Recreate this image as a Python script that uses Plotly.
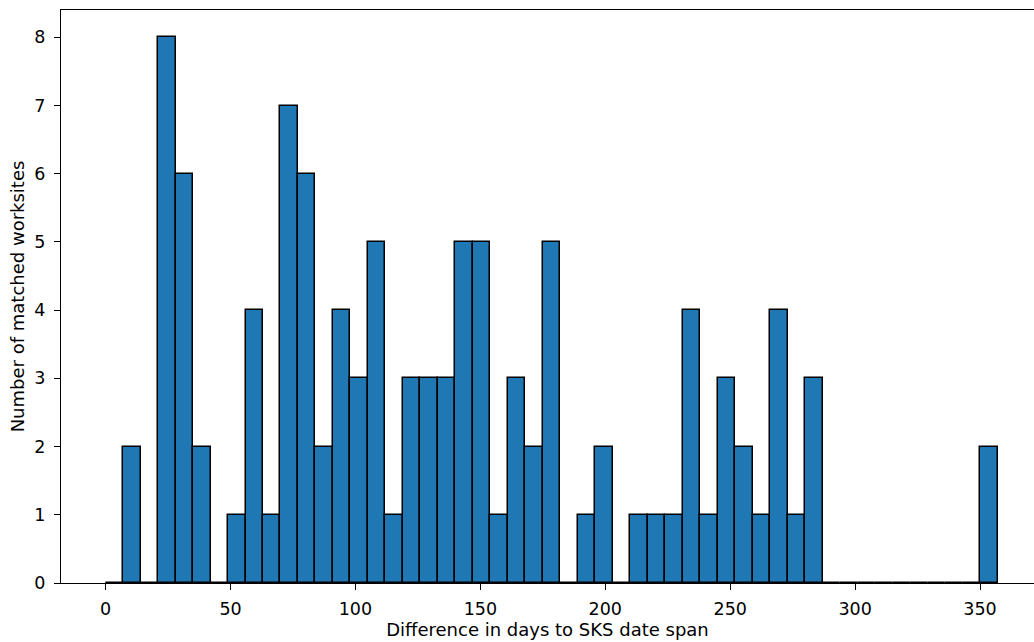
import plotly.graph_objects as go

# Histogram data (bin width 7 days, bins starting at 0)
bin_start = 0
bin_width = 7
counts = [0, 2, 0, 8, 6, 2, 0, 1, 4, 1,
          7, 6, 2, 4, 3, 5, 1, 3, 3, 3,
          5, 5, 1, 3, 2, 5, 0, 1, 2, 0,
          1, 1, 1, 4, 1, 3, 2, 1, 4, 1,
          3, 0, 0, 0, 0, 0, 0, 0, 0, 0,
          2]
x_ticks = [0, 50, 100, 150, 200, 250, 300, 350]
y_ticks = [0, 1, 2, 3, 4, 5, 6, 7, 8]
x_title = "Difference in days to SKS date span"
y_title = "Number of matched worksites"

centers = [bin_start + bin_width * (i + 0.5) for i in range(len(counts))]

FONT = "DejaVu Sans"

fig = go.Figure()
fig.add_trace(go.Bar(
    x=centers, y=counts, width=bin_width,
    marker=dict(color="#1f77b4", line=dict(color="black", width=1.5)),
    showlegend=False,
))

fig.update_layout(
    width=1034, height=642,
    margin=dict(l=61, r=0, t=10, b=59),
    paper_bgcolor="white", plot_bgcolor="white",
    font=dict(family=FONT, size=17.5, color="black"),
    bargap=0,
    xaxis=dict(
        range=[-17.85, 371.6],
        tickvals=x_ticks,
        ticks="outside", ticklen=6, tickwidth=1.4, tickcolor="black",
        showline=True, linecolor="black", linewidth=1.4, mirror=True,
        showgrid=False, zeroline=False,
        ticklabelstandoff=4,
        title=dict(text=x_title, font=dict(size=18), standoff=5),
        automargin=False,
    ),
    yaxis=dict(
        range=[0, 8.4],
        tickvals=y_ticks,
        ticks="outside", ticklen=6, tickwidth=1.4, tickcolor="black",
        showline=True, linecolor="black", linewidth=1.4, mirror=False,
        showgrid=False, zeroline=False,
        ticklabelstandoff=5,
        title=dict(text=y_title, font=dict(size=18), standoff=4),
        automargin=False,
    ),
)

fig.write_html("out.html")
